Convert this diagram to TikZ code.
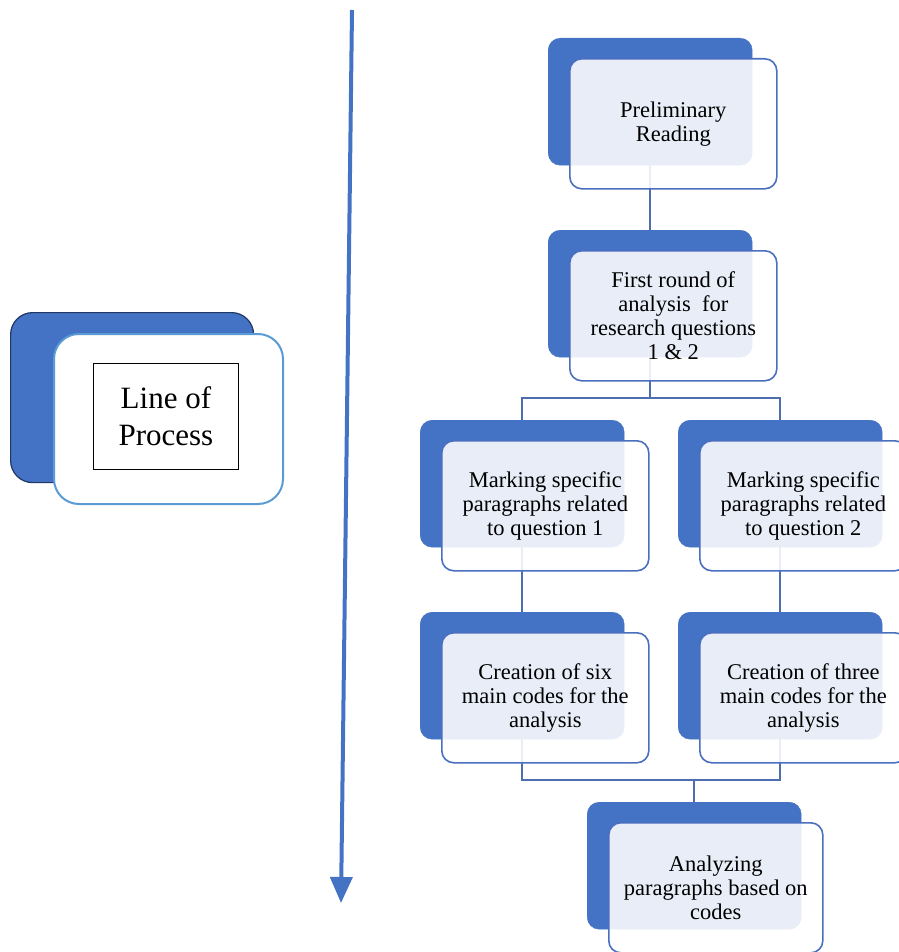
\documentclass[tikz,border=0pt]{standalone}
\usepackage{fontspec}
\setmainfont{Liberation Serif}
\usetikzlibrary{positioning,backgrounds,arrows.meta}

\definecolor{boxblue}{HTML}{4472C4}
\definecolor{edgeblue}{HTML}{4A6FBF}
\definecolor{lineblue}{HTML}{4F6EB0}
\definecolor{navyedge}{HTML}{1F3864}
\definecolor{lightedge}{HTML}{5B9BD5}

\tikzset{
  backbox/.style={draw=boxblue, fill=boxblue, rounded corners=12pt, minimum width=204pt,
    minimum height=127pt, anchor=north west, inner sep=0pt},
  frontbox/.style={draw=edgeblue, line width=1.6pt, fill=white, fill opacity=0.88,
    rounded corners=12pt, minimum width=207pt, minimum height=130pt, anchor=north west, inner sep=0pt},
  boxtext/.style={align=center, font=\fontsize{22.5}{24}\selectfont, text=black},
  link/.style={draw=lineblue, line width=1.8pt},
}

% back card, front card, text
\newcommand{\procbox}[5][]{%
  \node[backbox,#1] (#2-b) at (#3,#4) {};
  \node[frontbox,#1] (#2) at ([shift={(21,20)}]#2-b.north west) {};
  \node[boxtext] (#2-t) at (#2.center) {#5};
}

\begin{document}
\begin{tikzpicture}[x=1pt,y=-1pt]
  \useasboundingbox (0,0) rectangle (898,952);

  % legend card
  \node[draw=navyedge, line width=1.2pt, fill=boxblue, rounded corners=22pt, minimum width=243pt,
    minimum height=170pt, anchor=north west] (legend-b) at (10,312) {};
  \node[draw=lightedge, line width=2pt, fill=white, rounded corners=25pt, minimum width=229pt,
    minimum height=170pt, anchor=north west] (legend) at (53,333) {};
  \node[draw=black, line width=0.8pt, minimum width=145pt, minimum height=106pt, anchor=north west,
    align=center, font=\fontsize{31}{37}\selectfont] (legend-t) at (93,363) {Line of\\Process};

  % time line
  \coordinate (arrtop) at (352,10);
  \coordinate (arrend) at (341,903);
  \draw[boxblue, line width=4pt, -{Triangle[width=22pt,length=26pt]}] (arrtop) -- (arrend);

  % steps
  \procbox{prelim}{548}{38}{Preliminary\\Reading}
  \procbox{first}{548}{230}{First round of\\analysis~ for\\research questions\\1 \& 2}
  \procbox{mark1}{420}{420}{Marking specific\\paragraphs related\\to question 1}
  \procbox{mark2}{678}{420}{Marking specific\\paragraphs related\\to question 2}
  \procbox{create1}{420}{612}{Creation of six\\main codes for the\\analysis}
  \procbox{create2}{678}{612}{Creation of three\\main codes for the\\analysis}
  \procbox[minimum width=214pt]{analyze}{587}{802}{Analyzing\\paragraphs based on\\codes}

  \coordinate (split1) at (650,398);
  \coordinate (join1) at (694,780);

  \begin{scope}[on background layer]
    \draw[link] (prelim-b.center) -- (first-b.center);
    \draw[link] (first-b.center) -- (split1);
    \draw[link] (mark1-b.center) |- (split1) -| (mark2-b.center);
    \draw[link] (mark1-b.center) -- (create1-b.center);
    \draw[link] (mark2-b.center) -- (create2-b.center);
    \draw[link] (create1-b.center) |- (join1) -| (create2-b.center);
    \draw[link] (join1) -- (analyze-b.center);
  \end{scope}
\end{tikzpicture}
\end{document}
